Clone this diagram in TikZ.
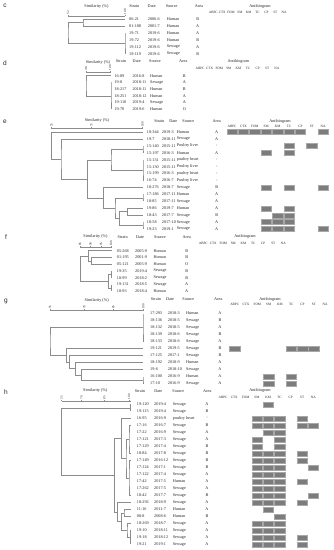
\documentclass[tikz,border=0pt]{standalone}
\usepackage{fontspec}
\setmainfont{Liberation Serif}
\setsansfont{Liberation Sans}
\usetikzlibrary{calc}
\definecolor{TextInk}{HTML}{262626}
\definecolor{LineGray}{HTML}{8C8C8C}
\definecolor{BoxGray}{HTML}{7C7C7C}
\definecolor{BoxEdge}{HTML}{A8A8A8}
\tikzset{
  rowtxt/.style={font=\fontsize{4.2}{5}\selectfont,text=TextInk,inner sep=0pt,anchor=west},
  areatxt/.style={font=\fontsize{4.2}{5}\selectfont,text=TextInk,inner sep=0pt},
  headtxt/.style={font=\fontsize{4.2}{5}\selectfont,text=TextInk,inner sep=0pt},
  abxtxt/.style={font=\fontsize{3.4}{4}\selectfont,text=TextInk,inner sep=0pt},
  simtxt/.style={font=\fontsize{3.2}{4}\selectfont,text=TextInk,inner sep=0pt,rotate=90,anchor=west},
  paneltag/.style={font=\sffamily\fontsize{6.5}{7}\selectfont,text=TextInk,inner sep=0pt},
  dendro/.style={draw=LineGray,line width=0.45pt},
  scaleline/.style={draw=LineGray,line width=0.45pt},
  abbox/.style={draw=BoxEdge,fill=BoxGray,line width=0.3pt,minimum width=10.4pt,
    minimum height=5pt,inner sep=0pt}
}
% join two branches of a dendrogram at similarity position x
\newcommand\dlink[4]{%
  \coordinate (#1-m) at ($(#3)!.5!(#4)$);
  \coordinate (#1) at (#2,0 |- #1-m);
  \draw[dendro] (#3) -| (#1) |- (#4);}
% antibiotic names above the antibiogram
\newcommand\abxrow[4]{%
  \foreach \abn [count=\k from 0] in {ABPC,CTX,FOM,SM,KM,TC,CP,ST,NA}
    {\node[abxtxt] (#1-\abn) at ({#2+\k*#3},#4) {\abn};}}

\begin{document}
\begin{tikzpicture}[x=1pt,y=-1pt]
  \fill[white] (0,0) rectangle (333,550);
  \useasboundingbox (0,0) rectangle (333,550);

  % panel c
  \node[paneltag] (c-tag) at (5,6) {c};
  \node[headtxt] (c-sim) at (96.5,6) {Similarity (\%)};
  \node[headtxt] (c-hst) at (134.3,6) {Strain};
  \node[headtxt] (c-hdt) at (151.7,6) {Date};
  \node[headtxt] (c-hso) at (171.7,6) {Source};
  \node[headtxt] (c-har) at (199,6) {Area};
  \node[headtxt] (c-hab) at (260,6) {Antibiogram};
  \abxrow{c}{213.3}{8.85}{12.7}
  \draw[scaleline] (68,16) -- (125,16);
  \foreach \xx/\lab in {68/52,125/100}
    {\draw[scaleline] (\xx,16) -- (\xx,14.8);
     \node[simtxt] (c-sc\lab) at (\xx,14.3) {\lab};}
  \foreach \st/\dt/\src/\ar [count=\i from 0] in {06-21/2006-6/Human/B,
      01-108/2001-7/Human/A, 19-71/2019-6/Human/A, 19-72/2019-6/Human/B,
      19-112/2019-6/Sewage/A, 19-119/2019-6/Sewage/B}{
    \pgfmathsetmacro\yy{19+7*\i}
    \node[rowtxt] (c-st\i) at (129,\yy) {\st};
    \node[rowtxt] (c-dt\i) at (147.7,\yy) {\dt};
    \node[rowtxt] (c-so\i) at (166.7,\yy) {\src};
    \node[areatxt] (c-ar\i) at (197.7,\yy) {\ar};
    \coordinate (c-l\i) at (125,\yy);
  }
  \dlink{c-a}{83}{c-l0}{c-l1}
  \dlink{c-b}{125}{c-l2}{c-l5}
  \dlink{c-r}{68}{c-a}{c-b}

  % panel d
  \node[paneltag] (d-tag) at (5,63) {d};
  \node[headtxt] (d-sim) at (98,62) {Similarity (\%)};
  \node[headtxt] (d-hst) at (121,61) {Strain};
  \node[headtxt] (d-hdt) at (136.7,61) {Date};
  \node[headtxt] (d-hso) at (155,61) {Source};
  \node[headtxt] (d-har) at (183.3,61) {Area};
  \node[headtxt] (d-hab) at (238.3,61) {Antibiogram};
  \abxrow{d}{200}{9.6}{68.3}
  \draw[scaleline] (86,72) -- (111,72);
  \foreach \xx/\lab in {86/48,110/100}
    {\draw[scaleline] (\xx,72) -- (\xx,70.8);
     \node[simtxt] (d-sc\lab) at (\xx,70.3) {\lab};}
  \foreach \st/\dt/\src/\ar [count=\i from 0] in {16-89/2016-8/Human/B,
      19-8/2018-11/Sewage/A, 18-217/2018-11/Human/B, 18-251/2018-12/Human/A,
      19-110/2019-4/Sewage/A, 19-70/2019-6/Human/O}{
    \pgfmathsetmacro\yy{75.7+6.72*\i}
    \node[rowtxt] (d-st\i) at (114.3,\yy) {\st};
    \node[rowtxt] (d-dt\i) at (132.3,\yy) {\dt};
    \node[rowtxt] (d-so\i) at (150,\yy) {\src};
    \node[areatxt] (d-ar\i) at (184.3,\yy) {\ar};
    \coordinate (d-l\i) at (111,\yy);
  }
  \dlink{d-b}{111}{d-l1}{d-l5}
  \dlink{d-r}{86}{d-l0}{d-b}

  % panel e
  \node[paneltag] (e-tag) at (5,122) {e};
  \node[headtxt] (e-sim) at (97,120.5) {Similarity (\%)};
  \node[headtxt] (e-hst) at (159.3,121) {Strain};
  \node[headtxt] (e-hdt) at (173.3,121) {Date};
  \node[headtxt] (e-hso) at (188.3,121) {Source};
  \node[headtxt] (e-har) at (216.7,121) {Area};
  \node[headtxt] (e-hab) at (280,121) {Antibiogram};
  \abxrow{e}{232}{11.4}{126.3}
  \draw[scaleline] (51.7,128.5) -- (143,128.5);
  \foreach \xx/\lab in {51.7/55,91.7/75,142.7/100}
    {\draw[scaleline] (\xx,128.5) -- (\xx,127.3);
     \node[simtxt] (e-sc\lab) at (\xx,126.8) {\lab};}
  \foreach \st/\dt/\src/\ar/\ab [count=\i from 0] in {
      18-344/2019-3/Human/A/{1,2,3,4,5,6,7,9}, 19-7/2018-11/Sewage/A/0,
      15-140/2015-11/Poultry liver/-/{6,8}, 15-197/2016-3/Human/A/{4,6},
      15-131/2015-11/poultry heart/-/0, 15-130/2015-11/Poultry liver/-/0,
      15-199/2016-3/poultry heart/-/0, 16-74/2016-7/Poultry liver/-/0,
      18-276/2018-7/Sewage/B/{4,6,9}, 17-186/2017-11/Human/A/0,
      18-85/2017-11/Sewage/A/0, 19-86/2019-7/Human/A/{4,6},
      18-43/2017-7/Sewage/B/{5,6}, 18-58/2017-10/Sewage/A/{4,5,6},
      19-23/2019-1/Sewage/A/{4,5,6,9}}{
    \pgfmathsetmacro\yy{132+6.93*\i}
    \node[rowtxt] (e-st\i) at (146.7,\yy) {\st};
    \node[rowtxt] (e-dt\i) at (161.7,\yy) {\dt};
    \node[rowtxt] (e-so\i) at (176.7,\yy) {\src};
    \node[areatxt] (e-ar\i) at (216.7,\yy) {\ar};
    \coordinate (e-l\i) at (143,\yy);
    \foreach \k in \ab {\ifnum\k>0
      \node[abbox] (e-ab\i-\k) at ({232+(\k-1)*11.4},\yy) {};\fi}
  }
  \dlink{e-u1}{143}{e-l2}{e-l3}
  \dlink{e-u2}{143}{e-l4}{e-l7}
  \dlink{e-u}{111}{e-u1}{e-u2}
  \dlink{e-p}{143}{e-l9}{e-l10}
  \dlink{e-q1}{127.7}{e-l11}{e-l12}
  \dlink{e-q2}{143}{e-l13}{e-l14}
  \dlink{e-q}{119.3}{e-q1}{e-q2}
  \dlink{e-s}{115}{e-p}{e-q}
  \dlink{e-t}{103.3}{e-l8}{e-s}
  \dlink{e-v}{87.3}{e-u}{e-t}
  \dlink{e-w}{61}{e-l1}{e-v}
  \dlink{e-r}{51.7}{e-l0}{e-w}

  % panel f
  \node[paneltag] (f-tag) at (6,236.7) {f};
  \node[headtxt] (f-sim) at (95.5,236.5) {Similarity (\%)};
  \node[headtxt] (f-hst) at (122.7,237) {Strain};
  \node[headtxt] (f-hdt) at (140,237) {Date};
  \node[headtxt] (f-hso) at (160,237) {Source};
  \node[headtxt] (f-har) at (186.7,237) {Area};
  \node[headtxt] (f-hab) at (245,236.7) {Antibiogram};
  \abxrow{f}{203.3}{10}{243.3}
  \draw[scaleline] (80,247.5) -- (111.7,247.5);
  \foreach \xx/\lab in {80/85,90.7/90,101/95,111/100}
    {\draw[scaleline] (\xx,247.5) -- (\xx,246.3);
     \node[simtxt] (f-sc\lab) at (\xx,245.8) {\lab};}
  \foreach \st/\dt/\src/\ar [count=\i from 0] in {05-268/2005-9/Human/B,
      01-195/2001-9/Human/B, 05-121/2005-9/Human/O, 19-35/2019-4/Sewage/B,
      18-99/2018-2/Sewage/B, 19-131/2018-5/Sewage/A, 18-93/2018-4/Human/A}{
    \pgfmathsetmacro\yy{250.7+6.77*\i}
    \node[rowtxt] (f-st\i) at (116.7,\yy) {\st};
    \node[rowtxt] (f-dt\i) at (135,\yy) {\dt};
    \node[rowtxt] (f-so\i) at (153.3,\yy) {\src};
    \node[areatxt] (f-ar\i) at (186.7,\yy) {\ar};
    \coordinate (f-l\i) at (111.7,\yy);
  }
  \dlink{f-a}{91.7}{f-l1}{f-l2}
  \dlink{f-b}{88.3}{f-l0}{f-a}
  \dlink{f-c}{111.7}{f-l3}{f-l4}
  \dlink{f-d}{111.7}{f-l5}{f-l6}
  \dlink{f-e}{108.3}{f-c}{f-d}
  \dlink{f-r}{80.7}{f-b}{f-e}

  % panel g
  \node[paneltag] (g-tag) at (6,301.5) {g};
  \node[headtxt] (g-sim) at (96.7,300) {Similarity (\%)};
  \node[headtxt] (g-hst) at (156,299.5) {Strain};
  \node[headtxt] (g-hdt) at (170,299.5) {Date};
  \node[headtxt] (g-hso) at (188.3,299.5) {Source};
  \node[headtxt] (g-har) at (218.3,299.5) {Area};
  \node[headtxt] (g-hab) at (270,299.5) {Antibiogram};
  \abxrow{g}{234.7}{11.3}{304.5}
  \draw[scaleline] (50,310.5) -- (143,310.5);
  \foreach \xx/\lab in {50/55,84.3/70,113.3/85,143.3/100}
    {\draw[scaleline] (\xx,310.5) -- (\xx,309.3);
     \node[simtxt] (g-sc\lab) at (\xx,308.8) {\lab};}
  \foreach \st/\dt/\src/\ar/\ab [count=\i from 0] in {
      17-293/2018-3/Human/A/0, 18-136/2018-5/Sewage/B/0,
      18-132/2018-5/Sewage/A/0, 18-139/2018-6/Sewage/B/0,
      18-133/2018-6/Sewage/A/0, 19-121/2019-5/Sewage/B/{1,6,7,8},
      17-125/2017-1/Sewage/B/0, 18-192/2018-9/Human/A/0,
      19-6/2018-10/Sewage/A/0, 16-100/2016-9/Human/A/{4,6},
      17-10/2016-9/Sewage/A/{4,6}}{
    \pgfmathsetmacro\yy{313.5+7*\i}
    \node[rowtxt] (g-st\i) at (150,\yy) {\st};
    \node[rowtxt] (g-dt\i) at (167.7,\yy) {\dt};
    \node[rowtxt] (g-so\i) at (186,\yy) {\src};
    \node[areatxt] (g-ar\i) at (220,\yy) {\ar};
    \coordinate (g-l\i) at (143,\yy);
    \foreach \k in \ab {\ifnum\k>0
      \node[abbox] (g-ab\i-\k) at ({234.7+(\k-1)*11.3},\yy) {};\fi}
  }
  \dlink{g-a}{143}{g-l0}{g-l4}
  \dlink{g-b}{143}{g-l9}{g-l10}
  \dlink{g-c}{81.7}{g-l8}{g-b}
  \dlink{g-d}{75.7}{g-l7}{g-c}
  \dlink{g-e}{69.3}{g-l6}{g-d}
  \dlink{g-f}{66.7}{g-l5}{g-e}
  \dlink{g-r}{50}{g-a}{g-f}

  % panel h
  \node[paneltag] (h-tag) at (6,391.7) {h};
  \node[headtxt] (h-sim) at (95.3,390.7) {Similarity (\%)};
  \node[headtxt] (h-hst) at (140,390.7) {Strain};
  \node[headtxt] (h-hdt) at (158.3,390.7) {Date};
  \node[headtxt] (h-hso) at (178.3,390.7) {Source};
  \node[headtxt] (h-har) at (207.3,390.7) {Area};
  \node[headtxt] (h-hab) at (260,390.7) {Antibiogram};
  \abxrow{h}{223}{11.3}{397.3}
  \draw[scaleline] (61.7,401) -- (130.7,401);
  \foreach \xx/\lab in {61.7/55,81.7/70,104.3/85,129/100}
    {\draw[scaleline] (\xx,401) -- (\xx,399.8);
     \node[simtxt] (h-sc\lab) at (\xx,399.3) {\lab};}
  \foreach \st/\dt/\src/\ar/\ab [count=\i from 0] in {
      19-120/2019-4/Sewage/A/{5}, 19-115/2019-4/Sewage/B/0,
      16-95/2016-9/poultry heart/-/{4,5,6,8}, 17-16/2016-7/Sewage/B/{4,5,6,8,9},
      17-22/2016-9/Sewage/A/{5,6}, 17-121/2017-3/Sewage/A/{4,6},
      17-129/2017-4/Sewage/B/{4,6}, 18-84/2017-8/Sewage/B/{4,5,6,8},
      17-149/2016-12/Sewage/B/{4,5,6,8}, 17-124/2017-1/Sewage/B/{4,5,6,9},
      17-122/2017-4/Sewage/A/{4,5,6}, 17-42/2017-5/Human/A/{4,5,6,8},
      17-262/2017-5/Sewage/A/{4,5,6}, 18-42/2017-7/Sewage/B/{4,5,6,9},
      18-292/2018-9/Sewage/A/{4,5,6,8}, 11-16/2011-7/Human/A/{5},
      08-8/2008-6/Human/B/{6}, 18-269/2018-7/Sewage/A/{4,5,6},
      19-10/2018-11/Sewage/A/{4,5,6}, 19-18/2018-12/Sewage/A/{4,5,6,8},
      19-21/2019-1/Sewage/A/{4,5,6,8}}{
    \pgfmathsetmacro\yy{404.3+7*\i}
    \node[rowtxt] (h-st\i) at (136.7,\yy) {\st};
    \node[rowtxt] (h-dt\i) at (154,\yy) {\dt};
    \node[rowtxt] (h-so\i) at (172.7,\yy) {\src};
    \node[areatxt] (h-ar\i) at (207,\yy) {\ar};
    \coordinate (h-l\i) at (130.7,\yy);
    \foreach \k in \ab {\ifnum\k>0
      \node[abbox] (h-ab\i-\k) at ({223+(\k-1)*11.3},\yy) {};\fi}
  }
  \dlink{h-a}{130.7}{h-l0}{h-l1}
  \dlink{h-b1}{129}{h-l3}{h-l7}
  \dlink{h-b2}{129}{h-l8}{h-l13}
  \dlink{h-b}{126}{h-b1}{h-b2}
  \dlink{h-c}{121.7}{h-l2}{h-b}
  \dlink{h-d1}{130.7}{h-l18}{h-l20}
  \dlink{h-d2}{127}{h-l17}{h-d1}
  \dlink{h-d3}{124}{h-l15}{h-l16}
  \dlink{h-d}{121.7}{h-d3}{h-d2}
  \dlink{h-e}{117.7}{h-l14}{h-d}
  \dlink{h-f}{114.3}{h-c}{h-e}
  \dlink{h-r}{61.7}{h-a}{h-f}
\end{tikzpicture}
\end{document}
